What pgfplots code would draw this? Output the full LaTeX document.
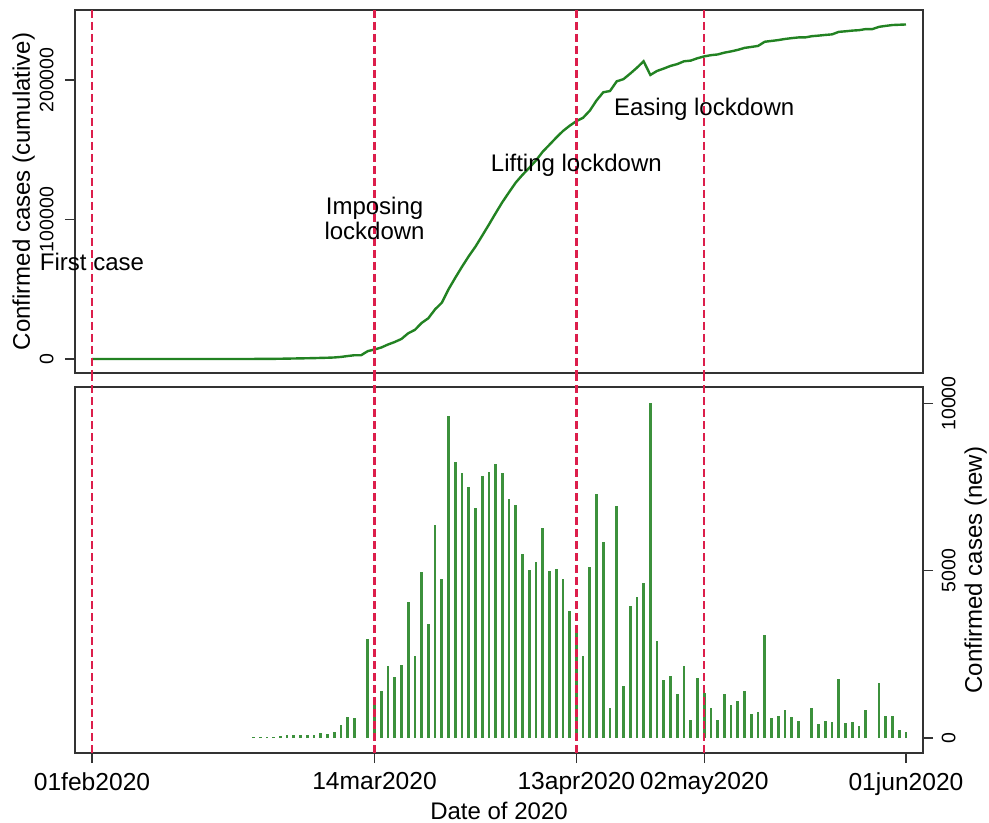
\documentclass[border=0pt]{standalone}
\usepackage{pgfplots}
\pgfplotsset{compat=1.18}
\usepackage{fontspec}
\setmainfont{Liberation Sans}
\definecolor{cline}{RGB}{34,130,34}
\definecolor{cbar}{RGB}{60,145,60}
\definecolor{cred}{RGB}{220,30,75}
\begin{document}
\begin{tikzpicture}[font=\fontsize{12}{14}\selectfont]
\useasboundingbox (0,0) rectangle (494.5pt,-411.5pt);
\begin{axis}[
 at={(37.5pt,-5pt)}, anchor=north west,
 scale only axis, width=424pt, height=181.5pt,
 xmin=-2.527, xmax=123.53, ymin=-10036, ymax=250179,
 axis line style={line width=0.6pt, black!80},
 xtick=\empty, scaled y ticks=false,
 ytick={0,100000,200000}, yticklabels={0,100000,200000},
 ytick pos=left, tick align=outside, major tick length=5pt,
 tick style={line width=0.6pt, black!80},
 yticklabel style={rotate=90, anchor=south, inner sep=0pt, font=\fontsize{9.75}{11}\selectfont},
 yticklabel shift=5.5pt,
 ylabel={Confirmed cases (cumulative)},
 ylabel style={at={(axis description cs:-0.0743,0.5)}, anchor=north, inner sep=0pt},
 clip=false,
]
\addplot[cline, line width=1.2pt] coordinates {
(0,1) (10,3) (20,3) (23,3) (24,30) (25,60) (26,90) (27,120) (28,180) (29,270)
(30,360) (31,450) (32,540) (33,630) (34,780) (35,900) (36,1090) (37,1490) (38,2115) (39,2700)
(40,2700) (41,5655) (42,6819) (43,8229) (44,10387) (45,12197) (46,14367) (47,18427) (48,20884) (49,25839)
(50,29239) (51,35596) (52,40351) (53,49971) (54,58228) (55,66138) (56,73648) (57,80533) (58,88373) (59,96333)
(60,104512) (61,112440) (62,119574) (63,126539) (64,132032) (65,137056) (66,142328) (67,148596) (68,153590) (69,158634)
(70,163389) (71,167199) (72,170482) (73,172939) (74,178043) (75,185336) (76,191206) (77,192101) (78,199035) (79,200597)
(80,204555) (81,208773) (82,213418) (83,203600) (84,206500) (85,208200) (86,210100) (87,211400) (88,213400) (89,213900)
(90,215600) (91,216900) (92,217800) (93,218300) (94,219600) (95,220500) (96,221600) (97,223000) (98,223700) (99,224400)
(100,227400) (101,228000) (102,228600) (103,229400) (104,230000) (105,230500) (106,230500) (107,231400) (108,231800) (109,232300)
(110,232700) (111,234500) (112,234900) (113,235400) (114,235700) (115,236500) (116,236500) (117,238100) (118,238800) (119,239400)
(120,239600) (121,239800)
};
\addplot[cred, line width=1.2pt, dash pattern=on 4pt off 2pt] coordinates {(0,250179) (0,-10036)};
\addplot[cred, line width=1.2pt, dash pattern=on 4pt off 2pt] coordinates {(42,250179) (42,-10036)};
\addplot[cred, line width=1.2pt, dash pattern=on 4pt off 2pt] coordinates {(72,250179) (72,-10036)};
\addplot[cred, line width=1.2pt, dash pattern=on 4pt off 2pt] coordinates {(91,250179) (91,-10036)};
\node at (axis cs:0,69500) {First case};
\node[align=center, font=\fontsize{12}{10.85}\selectfont] at (axis cs:42,100700) {Imposing\\lockdown};
\node at (axis cs:72,138500) {Lifting lockdown};
\node at (axis cs:91,179000) {Easing lockdown};
\end{axis}
\begin{axis}[
 at={(37.5pt,-193.5pt)}, anchor=north west,
 scale only axis, width=424pt, height=183pt,
 xmin=-2.527, xmax=123.53, ymin=-448, ymax=10495,
 axis line style={line width=0.6pt, black!80},
 tick align=outside, major tick length=5pt,
 tick style={line width=0.6pt, black!80},
 scaled y ticks=false, scaled x ticks=false,
 xtick={0,42,72,91,121}, xticklabels={01feb2020,14mar2020,13apr2020,02may2020,01jun2020},
 xtick pos=bottom, ytick pos=right,
 ytick={0,5000,10000}, yticklabels={0,5000,10000},
 yticklabel style={rotate=90, anchor=north, inner sep=0pt, font=\fontsize{9.75}{11}\selectfont},
 yticklabel shift=4.2pt,
 xticklabel style={anchor=north, inner sep=0pt, font=\fontsize{12.3}{14}\selectfont},
 xticklabel shift=4.5pt,
 xlabel={Date of 2020},
 xlabel style={at={(axis description cs:0.5,-0.134)}, anchor=north, inner sep=0pt},
 ylabel={Confirmed cases (new)},
 ylabel style={at={(axis description cs:1.0483,0.5)}, anchor=north, inner sep=0pt},
 clip=false,
]
\addplot[ycomb, cbar, line width=1.4pt] coordinates {
(24,30) (25,30) (26,30) (27,30) (28,60) (29,90) (30,90) (31,90) (32,90) (33,90)
(34,150) (35,120) (36,190) (37,400) (38,625) (39,585) (41,2955) (42,1164) (43,1410) (44,2158)
(45,1810) (46,2170) (47,4060) (48,2457) (49,4955) (50,3400) (51,6357) (52,4755) (53,9620) (54,8257)
(55,7910) (56,7510) (57,6885) (58,7840) (59,7960) (60,8179) (61,7928) (62,7134) (63,6965) (64,5493)
(65,5024) (66,5272) (67,6268) (68,4994) (69,5044) (70,4755) (71,3810) (72,3283) (73,2457) (74,5104)
(75,7293) (76,5870) (77,895) (78,6934) (79,1562) (80,3958) (81,4218) (82,4645) (83,10018) (84,2914)
(85,1741) (86,1850) (87,1323) (88,2159) (89,537) (90,1791) (91,1350) (92,886) (93,549) (94,1304)
(95,985) (96,1116) (97,1403) (98,716) (99,767) (100,3087) (101,588) (102,668) (103,836) (104,639)
(105,508) (107,896) (108,430) (109,508) (110,469) (111,1773) (112,460) (113,478) (114,358) (115,848)
(117,1633) (118,668) (119,657) (120,250) (121,170)
};
\addplot[cred, line width=1.2pt, dash pattern=on 4pt off 2pt] coordinates {(0,10913) (0,-448)};
\addplot[cred, line width=1.2pt, dash pattern=on 4pt off 2pt] coordinates {(42,10913) (42,-448)};
\addplot[cred, line width=1.2pt, dash pattern=on 4pt off 2pt] coordinates {(72,10913) (72,-448)};
\addplot[cred, line width=1.2pt, dash pattern=on 4pt off 2pt] coordinates {(91,10913) (91,-448)};
\end{axis}
\end{tikzpicture}
\end{document}
